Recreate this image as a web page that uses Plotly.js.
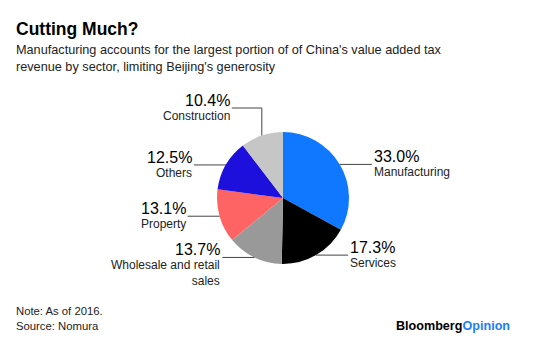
<!DOCTYPE html>
<html>
<head>
<meta charset="utf-8">
<script src="https://cdn.plot.ly/plotly-3.0.1.min.js"></script>
<style>html,body{margin:0;padding:0;background:#fff}#chart{width:560px;height:340px}</style>
</head>
<body>
<div id="chart"></div>
<script>
// Data
var sectors = ["Manufacturing", "Services", "Wholesale and retail<br>sales", "Property", "Others", "Construction"];
var shares = [33.0, 17.3, 13.7, 13.1, 12.5, 10.4];
var colors = ["#0f78ff", "#000000", "#999999", "#ff6464", "#1e10dc", "#c6c6c6"];

// Layout geometry (pixels)
var W = 560, H = 340;
var cx = 283, cy = 198, R = 66;
var font = "Liberation Sans, Arial, sans-serif";

function px(x){ return x / W; }
function py(y){ return 1 - y / H; }

var shapes = [], annotations = [];
var total = shares.reduce(function(a,b){return a+b;}, 0);
var cum = 0;
for (var i = 0; i < shares.length; i++) {
  var mid = (cum + shares[i] / 2) / total * 2 * Math.PI;
  cum += shares[i];
  var ex = cx + R * Math.sin(mid), ey = cy - R * Math.cos(mid);
  var right = Math.sin(mid) > 0;
  var lx, ly;
  var deg = mid * 180 / Math.PI;
  if (deg > 330) {
    // elbow leader near the top
    ly = cy - R - 24;
    shapes.push({type: "line", xref: "paper", yref: "paper", x0: px(ex), y0: py(ey), x1: px(ex), y1: py(ly), line: {color: "#444", width: 1}});
    lx = ex - 30;
    shapes.push({type: "line", xref: "paper", yref: "paper", x0: px(ex), y0: py(ly), x1: px(lx), y1: py(ly), line: {color: "#444", width: 1}});
  } else {
    ly = ey;
    lx = ex + (right ? 32 : -32);
    shapes.push({type: "line", xref: "paper", yref: "paper", x0: px(ex), y0: py(ey), x1: px(lx), y1: py(ly), line: {color: "#444", width: 1}});
  }
  var tx = lx + (right ? 1 : -1);
  annotations.push({xref: "paper", yref: "paper", x: px(tx), y: py(ly + 2), xanchor: right ? "left" : "right", yanchor: "bottom",
    text: shares[i].toFixed(1) + "%", showarrow: false, align: right ? "left" : "right",
    font: {family: font, size: 16, color: "#000"}, borderpad: 0});
  annotations.push({xref: "paper", yref: "paper", x: px(tx), y: py(ly), xanchor: right ? "left" : "right", yanchor: "top",
    text: sectors[i], showarrow: false, align: right ? "left" : "right",
    font: {family: font, size: 12, color: "#222"}, borderpad: 0});
}

// Titles and footer
annotations.push({xref: "paper", yref: "paper", x: px(14), y: py(17), xanchor: "left", yanchor: "top", showarrow: false,
  text: "<b>Cutting Much?</b>", font: {family: font, size: 17.5, color: "#000"}});
annotations.push({xref: "paper", yref: "paper", x: px(14), y: py(41), xanchor: "left", yanchor: "top", showarrow: false, align: "left",
  text: "Manufacturing accounts for the largest portion of of China's value added tax<br>revenue by sector, limiting Beijing's generosity",
  font: {family: font, size: 12.7, color: "#222"}});
annotations.push({xref: "paper", yref: "paper", x: px(14), y: py(303), xanchor: "left", yanchor: "top", showarrow: false, align: "left",
  text: "Note: As of 2016.<br>Source: Nomura", font: {family: font, size: 11.3, color: "#222"}});
annotations.push({xref: "paper", yref: "paper", x: px(512), y: py(335), xanchor: "right", yanchor: "bottom", showarrow: false,
  text: "<b>Bloomberg<span style='color:#1a7cff'>Opinion</span></b>", font: {family: font, size: 12.6, color: "#000"}});

var trace = {
  type: "pie",
  labels: sectors,
  values: shares,
  sort: false,
  direction: "clockwise",
  rotation: 0,
  textinfo: "none",
  hoverinfo: "none",
  marker: {colors: colors, line: {width: 0}},
  domain: {x: [px(cx - R), px(cx + R)], y: [py(cy + R), py(cy - R)]},
  showlegend: false
};

Plotly.newPlot("chart", [trace], {
  width: W, height: H,
  margin: {l: 0, r: 0, t: 0, b: 0},
  paper_bgcolor: "#fff",
  showlegend: false,
  shapes: shapes,
  annotations: annotations
}, {staticPlot: true});
</script>
</body>
</html>
